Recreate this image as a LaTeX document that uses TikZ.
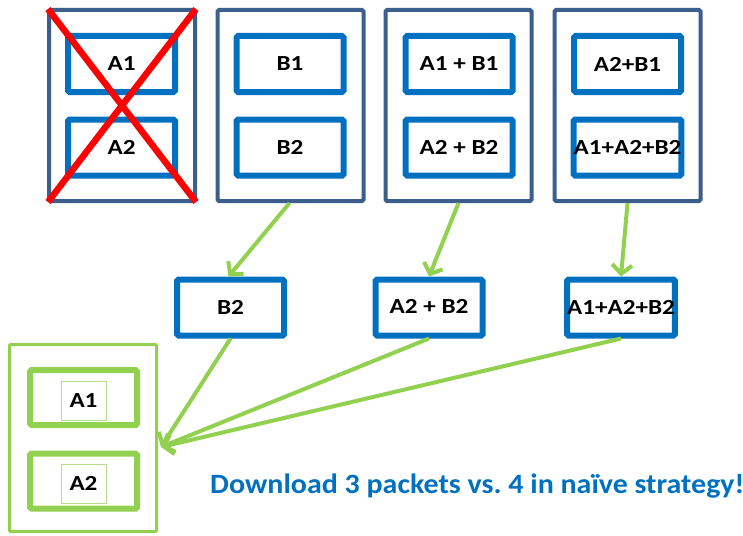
\documentclass[tikz,border=0pt]{standalone}
\usepackage{fontspec}
\setmainfont{Carlito}
\usetikzlibrary{arrows.meta}
\definecolor{outerblue}{HTML}{3B5E8C}
\definecolor{innerblue}{HTML}{0070C0}
\definecolor{lgreen}{HTML}{92D050}
\definecolor{pgreen}{HTML}{B5DF8C}
\newcommand{\lbl}[1]{\scalebox{1.17}[1]{#1}}
\frenchspacing
\begin{document}
\begin{tikzpicture}[x=1pt,y=-1pt,
  outerbox/.style={draw=outerblue,line width=4pt,rounded corners=1.5pt,minimum width=146pt,minimum height=191pt,inner sep=0pt},
  innerbox/.style={draw=innerblue,line width=6pt,rounded corners=1.5pt,minimum width=107pt,minimum height=56pt,inner sep=0pt,
     font=\fontsize{21.5}{21.5}\selectfont\bfseries},
  gouter/.style={draw=lgreen,line width=3pt,rounded corners=1pt,minimum width=147pt,minimum height=187pt,inner sep=0pt},
  ginner/.style={draw=lgreen,line width=6pt,rounded corners=1.5pt,minimum width=107pt,minimum height=55pt,inner sep=0pt},
  gsmall/.style={draw=pgreen,line width=0.8pt,minimum width=45pt,minimum height=39pt,inner sep=0pt,font=\fontsize{21.5}{21.5}\selectfont\bfseries},
  arr/.style={draw=lgreen,line width=4pt,-{Straight Barb[length=9pt,width=20pt]}},
  cross/.style={draw=red,line width=6.5pt}
]
\useasboundingbox (0,0) rectangle (743,535);
% top row outer boxes
\node[outerbox] (o1) at (122,105.5) {};
\node[outerbox] (o2) at (290.5,105.5) {};
\node[outerbox] (o3) at (458.5,105.5) {};
\node[outerbox] (o4) at (627.5,105.5) {};
% inner boxes
\node[innerbox] (a1) at (121.5,64) {\lbl{A1}};
\node[innerbox] (a2) at (121.5,147.5) {\lbl{A2}};
\node[innerbox] (b1) at (290,64) {\lbl{B1}};
\node[innerbox] (b2) at (290,147.5) {\lbl{B2}};
\node[innerbox] (c1) at (459,64) {\lbl{A1 + B1}};
\node[innerbox] (c2) at (459,147.5) {\lbl{A2 + B2}};
\node[innerbox] (d1) at (627.5,64) {\lbl{A2+B1}};
\node[innerbox] (d2) at (627.5,147.5) {\lbl{A1+A2+B2}};
% red cross
\draw[cross] ([xshift=1pt,yshift=-1pt]o1.north west) -- ([xshift=-1pt,yshift=1pt]o1.south east);
\draw[cross] ([xshift=-1pt,yshift=-1pt]o1.north east) -- ([xshift=1pt,yshift=1pt]o1.south west);
% middle row
\node[innerbox] (m1) at (230.5,307.5) {\lbl{B2}};
\node[innerbox] (m2) at (429,307.5) {\raisebox{3pt}{\lbl{A2 + B2}}};
\node[innerbox] (m3) at (621,307.5) {\raisebox{-4pt}{\lbl{A1+A2+B2}}};
% green receiver
\node[gouter] (g) at (83,438) {};
\node[ginner] (g1) at (83.5,397.5) {};
\node[ginner] (g2) at (83.5,481) {};
\node[gsmall] (s1) at (83.5,400.5) {\lbl{A1}};
\node[gsmall] (s2) at (83.5,483.5) {\lbl{A2}};
% arrows
\draw[arr] ([xshift=-1pt]o2.south) -- ([xshift=-2pt]m1.north);
\draw[arr] (o3.south) -- (m2.north);
\draw[arr] (o4.south) -- (m3.north);
\coordinate (tip) at ([xshift=3pt,yshift=-9pt]g.east);
\draw[arr] (m1.south) -- (tip);
\draw[arr] (m2.south) -- (tip);
\draw[arr] (m3.south) -- (tip);
% caption
\node[anchor=base west,inner sep=0pt,text=innerblue,font=\fontsize{28}{28}\selectfont\bfseries] (cap) at (210,493) {\scalebox{1.07}[1]{Download 3 packets vs. 4 in naïve strategy!}};
\end{tikzpicture}
\end{document}
